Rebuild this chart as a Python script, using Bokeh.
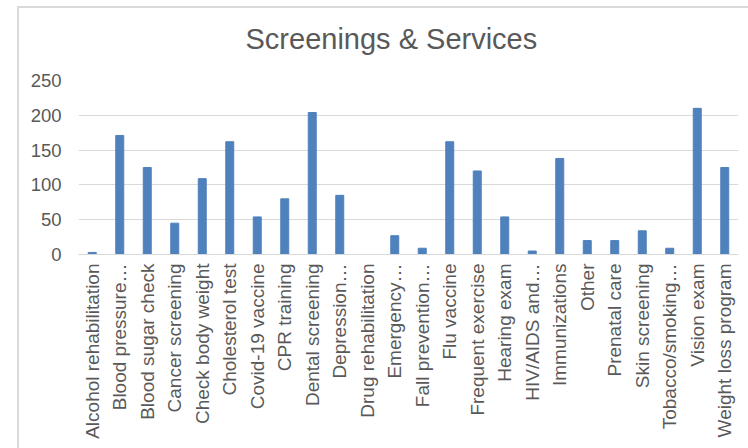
import math
from bokeh.plotting import figure
from bokeh.models import Title, FactorRange, Range1d, ColumnDataSource, FixedTicker
from bokeh.embed import file_html
from bokeh.resources import INLINE

title_text = "Screenings & Services"
categories = [
    "Alcohol rehabilitation", "Blood pressure\u2026", "Blood sugar check",
    "Cancer screening", "Check body weight", "Cholesterol test",
    "Covid-19 vaccine", "CPR training", "Dental screening", "Depression\u2026",
    "Drug rehabilitation", "Emergency\u2026", "Fall prevention\u2026",
    "Flu vaccine", "Frequent exercise", "Hearing exam", "HIV/AIDS and\u2026",
    "Immunizations", "Other", "Prenatal care", "Skin screening",
    "Tobacco/smoking\u2026", "Vision exam", "Weight loss program",
]
values = [3, 171, 125, 45, 109, 162, 54, 80, 204, 85, 0, 27, 9, 162, 120,
          54, 5, 138, 20, 20, 34, 9, 210, 125]
y_ticks = [0, 50, 100, 150, 200, 250]

src = ColumnDataSource(data=dict(cat=categories, val=values))

p = figure(x_range=FactorRange(*categories), y_range=Range1d(0, 250),
           width=748, height=448, output_backend="svg", toolbar_location=None,
           min_border_left=78, min_border_right=10, min_border_top=80,
           min_border_bottom=194)

p.vbar(x="cat", top="val", width=0.29, source=src, color="#4f81bd")

p.add_layout(Title(text=" ", text_font_size="8px"), "above")
p.add_layout(Title(text=title_text, text_font="Liberation Sans",
                   text_font_size="29px", text_font_style="normal",
                   text_color="#595959", align="left", offset=167), "above")

p.styles = {
    "background": "linear-gradient(#d9d9d9, #d9d9d9) 17px 6px / 2px 100% no-repeat, "
                  "linear-gradient(#d9d9d9, #d9d9d9) 17px 6px / 100% 2px no-repeat, white"
}
p.outline_line_color = None
p.background_fill_color = "white"
p.border_fill_color = None

p.xgrid.grid_line_color = None
p.ygrid.grid_line_color = "#d9d9d9"
p.ygrid.grid_line_width = 1
p.yaxis.ticker = FixedTicker(ticks=y_ticks)

p.xaxis.axis_line_color = "#d9d9d9"
p.xaxis.axis_line_width = 1
p.xaxis.major_tick_line_color = None
p.xaxis.minor_tick_line_color = None
p.xaxis.major_tick_out = 0
p.xaxis.major_tick_in = 0
p.xaxis.major_label_orientation = math.pi / 2
p.xaxis.major_label_standoff = 9
p.xaxis.major_label_text_font = "Liberation Sans"
p.xaxis.major_label_text_font_size = "19px"
p.xaxis.major_label_text_color = "#595959"

p.yaxis.axis_line_color = None
p.yaxis.major_tick_line_color = None
p.yaxis.minor_tick_line_color = None
p.yaxis.major_tick_out = 0
p.yaxis.major_tick_in = 0
p.yaxis.major_label_standoff = 17
p.yaxis.major_label_text_font = "Liberation Sans"
p.yaxis.major_label_text_font_size = "18.5px"
p.yaxis.major_label_text_color = "#595959"

open("out.html", "w").write(file_html(p, INLINE))
